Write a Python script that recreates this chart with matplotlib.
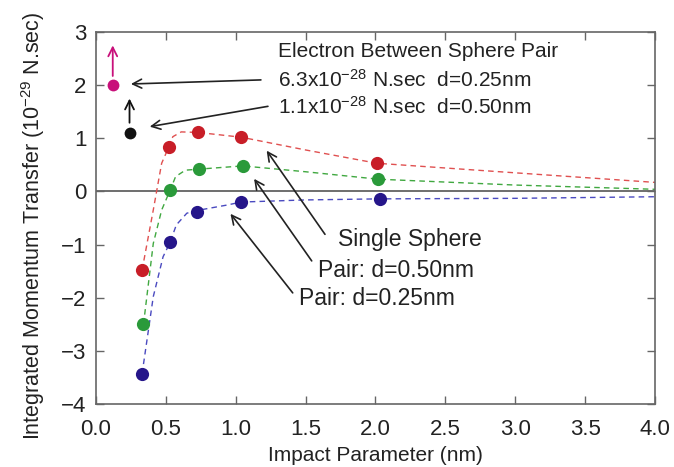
import matplotlib
matplotlib.use('Agg')
import matplotlib.pyplot as plt

plt.rcParams['font.family'] = ['Liberation Sans', 'DejaVu Sans']
plt.rcParams['mathtext.fontset'] = 'custom'
plt.rcParams['mathtext.rm'] = 'Liberation Sans'
plt.rcParams['mathtext.it'] = 'Liberation Sans:italic'
plt.rcParams['mathtext.bf'] = 'Liberation Sans:bold'

# puntos medidos
x_single = [0.33, 0.52, 0.73, 1.04, 2.01]
y_single = [-1.48, 0.83, 1.11, 1.02, 0.53]
x_pair50 = [0.34, 0.53, 0.74, 1.05, 2.02]
y_pair50 = [-2.50, 0.02, 0.42, 0.48, 0.23]
x_pair25 = [0.33, 0.53, 0.72, 1.04, 2.03]
y_pair25 = [-3.43, -0.96, -0.38, -0.20, -0.14]

# curvas de ajuste
xc_single = [0.33, 0.41, 0.47, 0.52, 0.55, 0.61, 0.73, 1.04, 1.5, 2.01, 3.0, 4.0]
yc_single = [-1.48, -0.35, 0.53, 0.83, 1.03, 1.12, 1.11, 1.02, 0.78, 0.53, 0.35, 0.17]
xc_pair50 = [0.34, 0.41, 0.47, 0.53, 0.57, 0.64, 0.74, 1.05, 1.5, 2.02, 3.0, 4.0]
yc_pair50 = [-2.50, -0.98, -0.35, 0.02, 0.28, 0.40, 0.42, 0.48, 0.37, 0.23, 0.12, 0.04]
xc_pair25 = [0.33, 0.41, 0.48, 0.53, 0.575, 0.65, 0.72, 0.93, 1.04, 1.5, 2.03, 3.0, 4.0]
yc_pair25 = [-3.43, -1.98, -1.23, -0.96, -0.63, -0.41, -0.36, -0.26, -0.20, -0.16, -0.14, -0.13, -0.10]

# electron entre par de esferas
x_between = [0.12, 0.24]
y_between = [2.0, 1.1]

xticks = [0.0, 0.5, 1.0, 1.5, 2.0, 2.5, 3.0, 3.5, 4.0]
yticks = [-4, -3, -2, -1, 0, 1, 2, 3]

fig = plt.figure(figsize=(6.74, 4.67), dpi=100)
ax = fig.add_axes([0.1424, 0.1349, 0.8294, 0.7966])

ax.axhline(0, color='#555555', lw=1.2, zorder=1)

ax.plot(xc_single, yc_single, '--', color='#e05050', lw=1.0, dashes=(4, 3), zorder=2)
ax.plot(xc_pair50, yc_pair50, '--', color='#40a840', lw=1.0, dashes=(4, 3), zorder=2)
ax.plot(xc_pair25, yc_pair25, '--', color='#4a4ac0', lw=1.0, dashes=(4, 3), zorder=2)

ax.plot(x_single, y_single, 'o', color='#c81e28', ms=9.5, mec='none', zorder=3)
ax.plot(x_pair50, y_pair50, 'o', color='#2a9a3a', ms=9.5, mec='none', zorder=3)
ax.plot(x_pair25, y_pair25, 'o', color='#26168a', ms=9.5, mec='none', zorder=3)

ax.plot(x_between[0], y_between[0], 'o', color='#c8107a', ms=8.5, mec='none', zorder=3)
ax.plot(x_between[1], y_between[1], 'o', color='#111111', ms=8.5, mec='none', zorder=3)

# flechas verticales
ax.annotate('', xy=(0.12, 2.80), xytext=(0.12, 2.12),
            arrowprops=dict(arrowstyle='->', color='#c8107a', lw=1.3, mutation_scale=16))
ax.annotate('', xy=(0.24, 1.80), xytext=(0.24, 1.24),
            arrowprops=dict(arrowstyle='->', color='#111111', lw=1.3, mutation_scale=16))

fs = 15
ax.text(1.30, 2.63, 'Electron Between Sphere Pair', fontsize=fs, va='center', color='#222222')
ax.text(1.30, 2.10, r'6.3x10$^{-28}$ N.sec  d=0.25nm', fontsize=fs, va='center', color='#222222')
ax.text(1.30, 1.59, r'1.1x10$^{-28}$ N.sec  d=0.50nm', fontsize=fs, va='center', color='#222222')

arrow_kw = dict(arrowstyle='->', color='#222222', lw=1.2, mutation_scale=16)
ax.annotate('', xy=(0.23, 2.02), xytext=(1.20, 2.10), arrowprops=arrow_kw)
ax.annotate('', xy=(0.365, 1.21), xytext=(1.25, 1.61), arrowprops=arrow_kw)

fs2 = 16.5
ax.text(1.73, -0.90, 'Single Sphere', fontsize=fs2, va='center', color='#222222')
ax.text(1.59, -1.48, 'Pair: d=0.50nm', fontsize=fs2, va='center', color='#222222')
ax.text(1.45, -2.01, 'Pair: d=0.25nm', fontsize=fs2, va='center', color='#222222')

ax.annotate('', xy=(1.21, 0.81), xytext=(1.65, -0.85), arrowprops=arrow_kw)
ax.annotate('', xy=(1.12, 0.28), xytext=(1.555, -1.35), arrowprops=arrow_kw)
ax.annotate('', xy=(0.95, -0.38), xytext=(1.42, -1.95), arrowprops=arrow_kw)

ax.set_xlim(0, 4)
ax.set_ylim(-4, 3)
ax.set_xticks(xticks)
ax.set_xticklabels(['%.1f' % t for t in xticks])
ax.set_yticks(yticks)
ax.tick_params(direction='in', top=True, right=True, length=6, width=1.0,
               color='#666666', labelsize=16, pad=7, labelcolor='#222222')
ax.tick_params(axis='x', pad=11)
for s in ax.spines.values():
    s.set_color('#666666')
    s.set_linewidth(1.2)

ax.set_xlabel('Impact Parameter (nm)', fontsize=15, color='#222222', labelpad=4)
ax.set_ylabel(r'Integrated Momentum Transfer (10$^{-29}$ N.sec)', fontsize=15.5,
              color='#222222')
ax.yaxis.set_label_coords(-0.087, 0.478)

fig.savefig('out.png', dpi=100)
